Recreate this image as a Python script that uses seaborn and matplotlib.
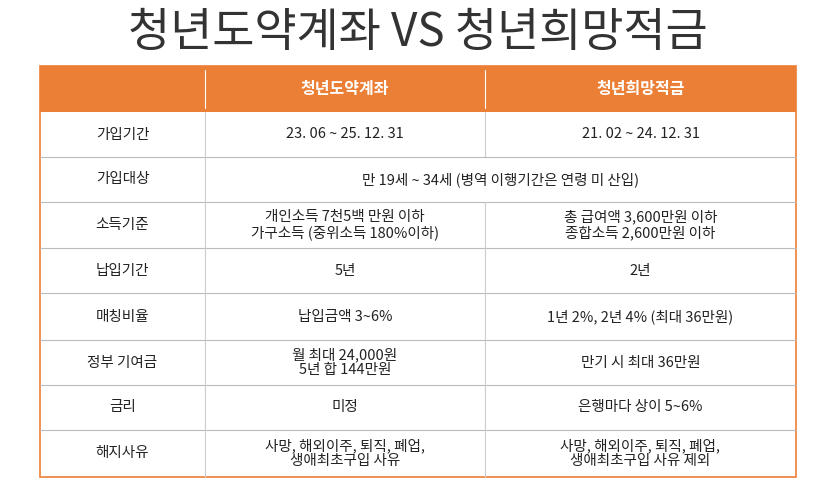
import matplotlib.pyplot as plt
import seaborn as sns

sns.set_theme(style="white", rc={"font.family": "Noto Sans CJK KR"})

title = "청년도약계좌 VS 청년희망적금"
columns = ["", "청년도약계좌", "청년희망적금"]
row_labels = ["가입기간", "가입대상", "소득기준", "납입기간", "매칭비율",
              "정부 기여금", "금리", "해지사유"]
col_a = ["23. 06 ~ 25. 12. 31",
         "만 19세 ~ 34세 (병역 이행기간은 연령 미 산입)",
         "개인소득 7천5백 만원 이하\n가구소득 (중위소득 180%이하)",
         "5년", "납입금액 3~6%",
         "월 최대 24,000원\n5년 합 144만원",
         "미정",
         "사망, 해외이주, 퇴직, 폐업,\n생애최초구입 사유"]
col_b = ["21. 02 ~ 24. 12. 31",
         None,
         "총 급여액 3,600만원 이하\n종합소득 2,600만원 이하",
         "2년", "1년 2%, 2년 4% (최대 36만원)",
         "만기 시 최대 36만원",
         "은행마다 상이 5~6%",
         "사망, 해외이주, 퇴직, 폐업,\n생애최초구입 사유 제외"]

orange = "#EC7F36"
xs = [40, 205, 485, 796]
ys = [66, 112, 157, 202, 248, 293, 340, 385, 430, 477]
fs = 10.5

fig = plt.figure(figsize=(8.36, 4.91), dpi=100)
ax = fig.add_axes([0, 0, 1, 1])
ax.set_xlim(0, 836)
ax.set_ylim(491, 0)
ax.axis("off")

ax.text(418, 33, title, ha="center", va="center", fontsize=33,
        fontweight="medium", color="#333333")

# header
ax.add_patch(plt.Rectangle((xs[0], ys[0]), xs[3] - xs[0], ys[1] - ys[0],
                           color=orange, lw=0))
for i, name in enumerate(columns):
    if name:
        ax.text((xs[i] + xs[i + 1]) / 2, (ys[0] + ys[1]) / 2, name,
                ha="center", va="center", color="white", fontsize=11.5,
                fontweight="bold")
ax.plot([xs[1], xs[1]], [ys[0] + 4, ys[1] - 4], color="white", lw=0.8)
ax.plot([xs[2], xs[2]], [ys[0] + 4, ys[1] - 4], color="white", lw=0.8)

for r, label in enumerate(row_labels):
    y0, y1 = ys[r + 1], ys[r + 2]
    cy = (y0 + y1) / 2
    ax.text((xs[0] + xs[1]) / 2, cy, label, ha="center", va="center",
            fontsize=fs, color="#222222")
    ax.plot([xs[1], xs[1]], [y0, y1], color="#cccccc", lw=0.8)
    if col_b[r] is None:
        ax.text((xs[1] + xs[3]) / 2, cy, col_a[r], ha="center", va="center",
                fontsize=fs, color="#222222")
    else:
        ax.plot([xs[2], xs[2]], [y0, y1], color="#cccccc", lw=0.8)
        for c, txt in zip((1, 2), (col_a[r], col_b[r])):
            ax.text((xs[c] + xs[c + 1]) / 2, cy, txt, ha="center",
                    va="center", fontsize=fs, color="#222222",
                    linespacing=1.05)
    if r < len(row_labels) - 1:
        ax.plot([xs[0], xs[3]], [y1, y1], color="#bbbbbb", lw=0.8)

ax.add_patch(plt.Rectangle((xs[0], ys[0]), xs[3] - xs[0], ys[-1] - ys[0],
                           fill=False, edgecolor=orange, lw=1.2))

fig.savefig("out.png", dpi=100)
